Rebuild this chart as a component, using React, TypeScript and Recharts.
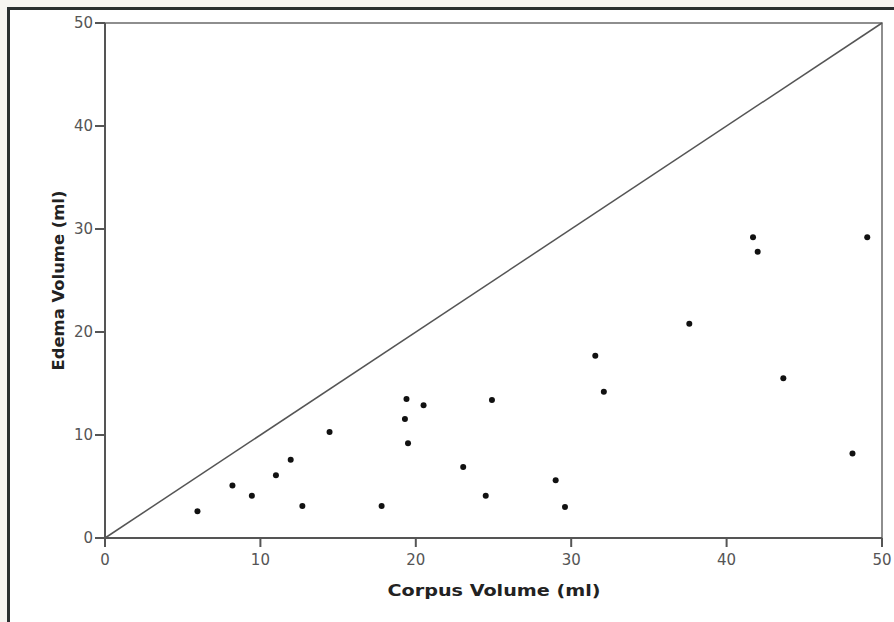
import React from "react";
import {
  ScatterChart,
  Scatter,
  XAxis,
  YAxis,
  ReferenceLine,
  ReferenceArea,
} from "recharts";

// corpus volume (ml) vs edema volume (ml)
const corpusVolume = [
  5.95, 8.2, 9.45, 11.0, 11.95, 12.7, 14.45, 17.8, 19.4, 19.3, 19.5, 20.5,
  23.05, 24.5, 24.9, 29.0, 29.6, 31.55, 32.1, 37.6, 41.7, 42.0, 43.65, 48.1,
  49.05,
];
const edemaVolume = [
  2.6, 5.1, 4.1, 6.1, 7.6, 3.1, 10.3, 3.1, 13.5, 11.55, 9.2, 12.9, 6.9, 4.1,
  13.4, 5.6, 3.0, 17.7, 14.2, 20.8, 29.2, 27.8, 15.5, 8.2, 29.2,
];
const axisTicks = [0, 10, 20, 30, 40, 50];

const points = corpusVolume.map((x, i) => ({ x, y: edemaVolume[i] }));

const tickStyle = { fill: "#555", fontSize: 15, fontFamily: "DejaVu Sans" };
const titleStyle = {
  fill: "#222",
  fontSize: 16,
  fontWeight: 700,
  fontFamily: "DejaVu Sans",
};

const Dot = (props: any) => (
  <circle cx={props.cx} cy={props.cy} r={3} fill="#111" />
);

export default function App() {
  return (
    <div
      style={{
        position: "fixed",
        left: 0,
        top: 0,
        width: 894,
        height: 622,
        background: "#f7f5f1",
        overflow: "hidden",
      }}
    >
      <div
        style={{
          position: "absolute",
          left: 7,
          top: 7,
          right: 0,
          bottom: 0,
          borderLeft: "3px solid #2b3030",
          borderTop: "3px solid #2b3030",
          background: "#fff",
        }}
      />
      <div style={{ position: "absolute", left: 0, top: 0 }}>
        <ScatterChart
          width={894}
          height={622}
          margin={{ top: 23, right: 12, bottom: 0, left: 0 }}
          style={{ overflow: "visible" }}
        >
          <ReferenceArea
            x1={0}
            x2={50}
            y1={0}
            y2={50}
            fill="none"
            stroke="#6a6a6a"
            strokeWidth={1.5}
          />
          <XAxis
            type="number"
            dataKey="x"
            domain={[0, 50]}
            ticks={axisTicks}
            height={84}
            tickSize={9}
            tickMargin={7}
            tick={tickStyle}
            axisLine={{ stroke: "#555", strokeWidth: 2 }}
            tickLine={{ stroke: "#555", strokeWidth: 2 }}
            label={{
              content: ({ viewBox }: any) => (
                <text
                  x={viewBox.x + viewBox.width / 2 - 106}
                  y={viewBox.y + 58}
                  textLength={213}
                  lengthAdjust="spacingAndGlyphs"
                  {...titleStyle}
                >
                  Corpus Volume (ml)
                </text>
              ),
            }}
          />
          <YAxis
            type="number"
            dataKey="y"
            domain={[0, 50]}
            ticks={axisTicks}
            width={105}
            tickSize={10}
            tickMargin={2}
            tick={tickStyle}
            axisLine={{ stroke: "#555", strokeWidth: 2 }}
            tickLine={{ stroke: "#555", strokeWidth: 2 }}
            label={{
              content: ({ viewBox }: any) => {
                const cx = viewBox.x + 58;
                const cy = viewBox.y + viewBox.height / 2;
                return (
                  <text
                    x={cx - 90}
                    y={cy}
                    dominantBaseline="central"
                    textLength={180}
                    lengthAdjust="spacingAndGlyphs"
                    transform={`rotate(-90 ${cx} ${cy})`}
                    {...titleStyle}
                  >
                    Edema Volume (ml)
                  </text>
                );
              },
            }}
          />
          <ReferenceLine
            segment={[
              { x: 0, y: 0 },
              { x: 50, y: 50 },
            ]}
            stroke="#555"
            strokeWidth={1.5}
          />
          <Scatter data={points} shape={<Dot />} isAnimationActive={false} />
        </ScatterChart>
      </div>
    </div>
  );
}
